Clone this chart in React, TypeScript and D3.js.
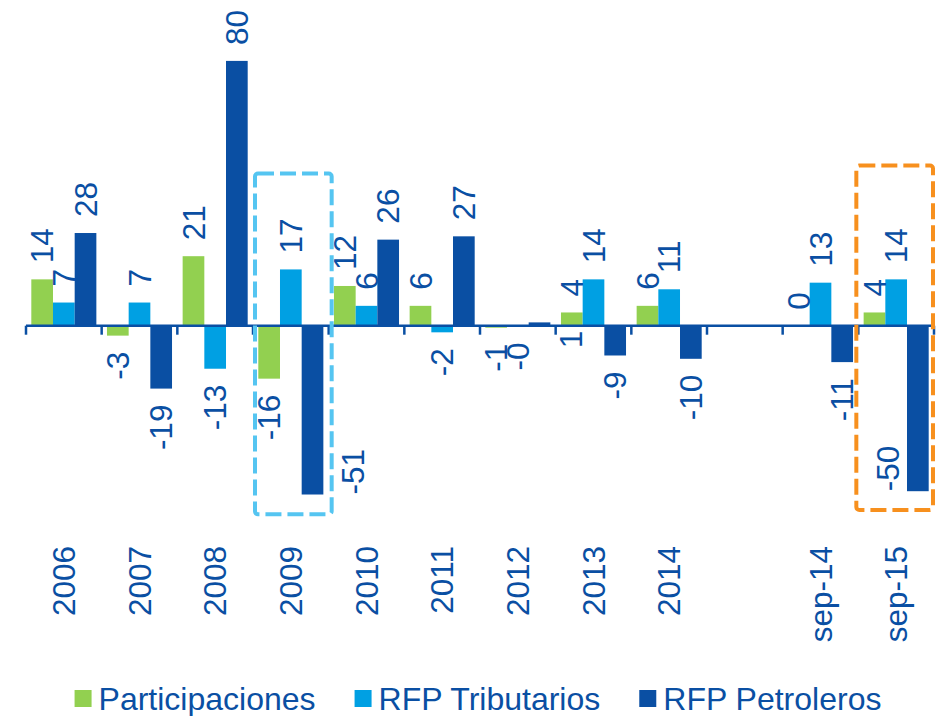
import React, { useEffect, useRef } from "react";
import * as d3 from "d3";

const categories = ["2006", "2007", "2008", "2009", "2010", "2011", "2012", "2013", "2014", "", "sep-14", "sep-15"];
const participaciones = [14, -3, 21, -16, 12, 6, -0.6, 4, 6, null, 0, 4];
const tributarios = [7, 7, -13, 17, 6, -2, -0.2, 14, 11, null, 13, 14];
const petroleros = [28, -19, 80, -51, 26, 27, 1, -9, -10, null, -11, -50];
const seriesNames = ["Participaciones", "RFP Tributarios", "RFP Petroleros"];
const seriesColors = ["#92D050", "#00A0E3", "#0A4FA3"];

// label placement tweaks (series index, category index)
const labelNudges = [
  { s: 2, i: 6, mode: "below", dx: 31, gap: 5 },
  { s: 2, i: 3, mode: "inside", dx: 40, gap: 0 },
  { s: 2, i: 11, mode: "inside", dx: -30, gap: 0 },
];

// highlight boxes: category, value top, value bottom, colour
const highlightCats = ["2009", "sep-15"];
const highlightTop = [46, 48.4];
const highlightBottom = [-57, -55.7];
const highlightColors = ["#55C5F1", "#F7901E"];

const W = 938, H = 716;
const FONT = "'Liberation Sans', Arial, Helvetica, sans-serif";
const TEXT = "#0A4FA3";
const FS = 31.5;

function fmt(v: number) {
  const r = Math.round(v);
  return (v < 0 ? "-" : "") + Math.abs(r);
}

export default function App() {
  const ref = useRef<SVGSVGElement>(null);
  useEffect(() => {
    const svg = d3.select(ref.current);
    svg.selectAll("*").remove();
    const data = [participaciones, tributarios, petroleros];

    const x = d3.scaleBand<number>().domain(d3.range(categories.length)).range([26, 934]).paddingInner(0).paddingOuter(0);
    const x1 = d3.scaleBand<number>().domain([0, 1, 2]).range([0, x.bandwidth()]).paddingInner(0).paddingOuter(0.245);
    const y = d3.scaleLinear().domain([-60, 85]).range([325.7 + 60 * 3.31, 325.7 - 85 * 3.31]);
    const y0 = y(0);

    // bars
    data.forEach((vals, s) => {
      vals.forEach((v, i) => {
        if (v === null) return;
        const bx = (x(i) as number) + (x1(s) as number);
        svg.append("rect")
          .attr("x", bx)
          .attr("y", Math.min(y(v), y0))
          .attr("width", x1.bandwidth())
          .attr("height", Math.abs(y(v) - y0))
          .attr("fill", seriesColors[s]);
      });
    });

    // axis line and ticks
    svg.append("line").attr("x1", 26).attr("x2", 934).attr("y1", y0).attr("y2", y0)
      .attr("stroke", TEXT).attr("stroke-width", 2.5);
    d3.range(categories.length + 1).forEach((k) => {
      const tx = k < categories.length ? (x(k) as number) : 934;
      svg.append("line").attr("x1", tx).attr("x2", tx).attr("y1", y0).attr("y2", y0 + 9)
        .attr("stroke", TEXT).attr("stroke-width", 2.5);
    });

    // data labels
    data.forEach((vals, s) => {
      vals.forEach((v, i) => {
        if (v === null) return;
        const cx = (x(i) as number) + (x1(s) as number) + x1.bandwidth() / 2;
        const nudge = labelNudges.find((n) => n.s === s && n.i === i);
        let ly: number, anchor: string, dx = 0;
        if (nudge) {
          dx = nudge.dx;
          if (nudge.mode === "below") { ly = y0 + nudge.gap; anchor = "end"; }
          else { ly = y(v); anchor = "start"; }
        } else if (v >= 0) { ly = y(v) - 16; anchor = "start"; }
        else { ly = y(v) + 16; anchor = "end"; }
        svg.append("text")
          .attr("transform", `translate(${cx + dx},${ly}) rotate(-90)`)
          .attr("text-anchor", anchor)
          .attr("dy", "0.35em")
          .attr("font-family", FONT).attr("font-size", FS).attr("fill", TEXT)
          .text(fmt(v));
      });
    });

    // category labels
    categories.forEach((c, i) => {
      if (!c) return;
      const cx = (x(i) as number) + x.bandwidth() / 2;
      svg.append("text")
        .attr("transform", `translate(${cx},546) rotate(-90)`)
        .attr("text-anchor", "end").attr("dy", "0.35em")
        .attr("font-family", FONT).attr("font-size", FS).attr("fill", TEXT)
        .text(c);
    });

    // highlight boxes
    highlightCats.forEach((c, k) => {
      const i = categories.indexOf(c);
      const bx = (x(i) as number);
      svg.append("rect")
        .attr("x", bx + (k === 0 ? 2 : -2)).attr("y", y(highlightTop[k]))
        .attr("width", x.bandwidth() + 1).attr("height", y(highlightBottom[k]) - y(highlightTop[k]))
        .attr("rx", 3).attr("fill", "none")
        .attr("stroke", highlightColors[k]).attr("stroke-width", 4)
        .attr("stroke-dasharray", "16 6");
    });

    // legend
    const lg = svg.append("g");
    let cursor = 0;
    seriesNames.forEach((n, s) => {
      const g = lg.append("g").attr("transform", `translate(${cursor},0)`);
      g.append("rect").attr("x", 0).attr("y", 690).attr("width", 17).attr("height", 17).attr("fill", seriesColors[s]);
      const t = g.append("text").attr("x", 24).attr("y", 709.5)
        .attr("font-family", FONT).attr("font-size", 32).attr("fill", TEXT).text(n);
      const w = (t.node() as SVGTextElement).getComputedTextLength();
      cursor += 24 + w + 39;
    });
    const total = cursor - 39;
    lg.attr("transform", `translate(${478 - total / 2},0)`);
  }, []);

  return (
    <svg ref={ref} width={W} height={H} style={{ position: "absolute", left: 0, top: 0, background: "#fff" }} />
  );
}
